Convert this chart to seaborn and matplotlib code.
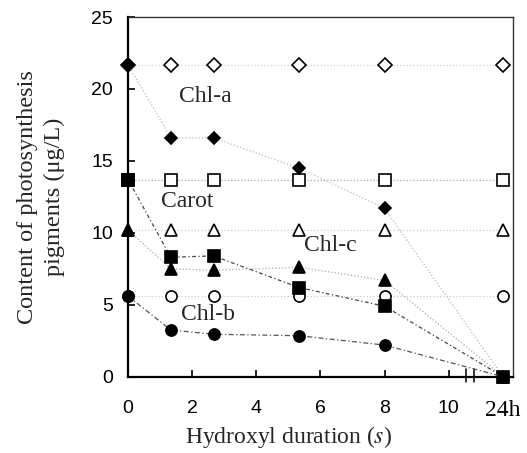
import pandas as pd
import matplotlib
matplotlib.use('Agg')
import matplotlib.pyplot as plt
import seaborn as sns

# x positions (24h drawn after the axis break)
x_pos = [0, 4 / 3, 8 / 3, 16 / 3, 8, 11.7]
tick_pos = [0, 2, 4, 6, 8, 10, 11.7]
tick_labels = ['0', '2', '4', '6', '8', '10', '24h']
break_pos = [10.55, 10.8]

# control (open markers)
chla_ctrl = [21.7, 21.7, 21.7, 21.7, 21.7, 21.7]
carot_ctrl = [13.7, 13.7, 13.7, 13.7, 13.7, 13.7]
chlc_ctrl = [10.2, 10.2, 10.2, 10.2, 10.2, 10.2]
chlb_ctrl = [5.6, 5.6, 5.6, 5.6, 5.6, 5.6]

# treated (filled markers)
chla_trt = [21.7, 16.6, 16.6, 14.5, 11.7, 0]
carot_trt = [13.7, 8.3, 8.4, 6.2, 4.9, 0]
chlc_trt = [10.2, 7.5, 7.4, 7.6, 6.7, 0]
chlb_trt = [5.6, 3.25, 2.95, 2.85, 2.2, 0]

labels = ['Chl-a', 'Carot', 'Chl-c', 'Chl-b']
label_x = [2.4, 1.83, 6.3, 2.5]
label_y = [19.5, 12.15, 9.15, 4.3]

sns.set_style('ticks')
plt.rcParams['font.family'] = ['Liberation Serif', 'DejaVu Serif']
plt.rcParams['mathtext.fontset'] = 'stix'
plt.rcParams['xtick.direction'] = 'in'
plt.rcParams['ytick.direction'] = 'in'

fig = plt.figure(figsize=(5.27, 4.53), dpi=100)
ax = fig.add_axes([0.243, 0.1684, 0.73, 0.794])

series = [
    (chla_ctrl, 'D', 'white', '#d0d0d0', ':', 7),
    (carot_ctrl, 's', 'white', '#aaaaaa', ':', 8),
    (chlc_ctrl, '^', 'white', '#cccccc', ':', 8),
    (chlb_ctrl, 'o', 'white', '#cccccc', ':', 8),
    (chla_trt, 'D', 'black', '#bbbbbb', ':', 6),
    (chlc_trt, '^', 'black', '#aaaaaa', ':', 8),
    (carot_trt, 's', 'black', '#444444', (0, (3, 2, 1, 2)), 8),
    (chlb_trt, 'o', 'black', '#555555', (0, (4, 2, 1, 2)), 8),
]

for vals, mk, fc, lc, ls, ms in series:
    df = pd.DataFrame({'x': x_pos, 'y': vals})
    sns.lineplot(data=df, x='x', y='y', ax=ax, color=lc, linestyle=ls,
                 linewidth=0.9, marker=mk, markersize=ms,
                 markerfacecolor=fc, markeredgecolor='black',
                 markeredgewidth=1.2, clip_on=False, zorder=3)

for txt, lx, ly in zip(labels, label_x, label_y):
    ax.text(lx, ly, txt, fontsize=17, ha='center', va='center', zorder=4)

ax.set_xlim(0, 12)
ax.set_ylim(0, 25)
ax.set_yticks([0, 5, 10, 15, 20, 25])
ax.set_xticks(tick_pos)
ax.set_xticklabels(tick_labels)
for lab in ax.get_xticklabels()[:-1] + ax.get_yticklabels():
    lab.set_family(['Liberation Sans', 'DejaVu Sans'])
    lab.set_fontsize(14)
ax.get_xticklabels()[-1].set_fontsize(17)
ax.xaxis.get_major_ticks()[-1].tick1line.set_visible(False)
ax.tick_params(axis='both', length=5, width=1.2, colors='black')
ax.tick_params(axis='x', pad=17)
ax.tick_params(axis='y', pad=11)

for bx in break_pos:
    ax.plot([bx, bx], [-0.35, 0.55], color='black', lw=1.1, clip_on=False)

for side in ['left', 'bottom']:
    ax.spines[side].set_linewidth(1.6)
    ax.spines[side].set_color('black')
for side in ['top', 'right']:
    ax.spines[side].set_linewidth(1.0)
    ax.spines[side].set_color('#333333')

ax.set_xlabel('Hydroxyl duration ($s$)', fontsize=17, labelpad=2)
ax.xaxis.label.set_x(0.417)
ax.set_ylabel('Content of photosynthesis\npigments (\u03bcg/L)', fontsize=17.5,
              labelpad=19, linespacing=1.35)

fig.savefig('out.png', dpi=100)
